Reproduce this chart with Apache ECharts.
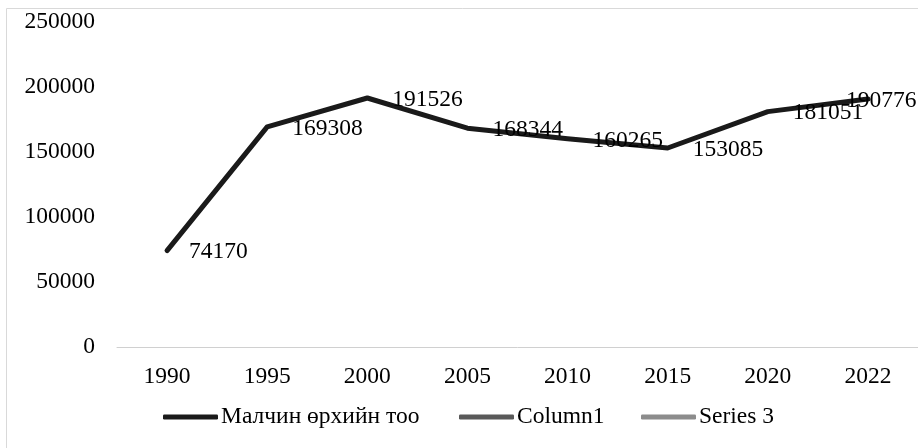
<!DOCTYPE html>
<html>
<head>
<meta charset="utf-8">
<script src="https://cdn.jsdelivr.net/npm/echarts@6/dist/echarts.min.js"></script>
<style>
  html, body { margin: 0; padding: 0; background: #fff; }
  #chart { width: 918px; height: 448px; }
</style>
</head>
<body>
<div id="chart"></div>
<script>
  // data
  const years = ['1990', '1995', '2000', '2005', '2010', '2015', '2020', '2022'];
  const herders = [74170, 169308, 191526, 168344, 160265, 153085, 181051, 190776];
  const seriesNames = ['Малчин өрхийн тоо', 'Column1', 'Series 3'];
  // label nudges (last one is pulled back inside the frame)
  const labelShift = [[-3, 1], [0, 2], [0, 2], [0, 2], [0, 2], [0, 2], [0, 1], [-47, 2]];

  const font = 'Liberation Serif';
  const fs = 23.5;
  const legendLeft = [163, 459, 641];
  const lineColors = ['#1a1a1a', '#595959', '#8c8c8c'];

  let chart = echarts.init(document.getElementById('chart'));
  chart.setOption({
    animation: false,
    textStyle: { fontFamily: font },
    graphic: [{
      type: 'rect',
      shape: { x: 6.5, y: 8.5, width: 930, height: 460 },
      style: { fill: 'none', stroke: '#d9d9d9', lineWidth: 1 },
      silent: true
    }],
    grid: { left: 117, right: -8, top: 22, bottom: 101 },
    legend: seriesNames.map((name, i) => ({
      data: [name],
      left: legendLeft[i],
      top: 405,
      padding: 0,
      itemWidth: 55,
      itemHeight: 5,
      icon: 'roundRect',
      textStyle: { fontFamily: font, fontSize: fs, color: '#000', padding: [0, 0, 0, -2] }
    })),
    xAxis: {
      type: 'category',
      data: years,
      boundaryGap: true,
      axisLine: { lineStyle: { color: '#d0d0d0', width: 1 } },
      axisTick: { show: false },
      axisLabel: { fontFamily: font, fontSize: fs, color: '#000', margin: 18 }
    },
    yAxis: {
      type: 'value',
      min: 0,
      max: 250000,
      interval: 50000,
      splitLine: { show: false },
      axisLine: { show: false },
      axisTick: { show: false },
      axisLabel: { fontFamily: font, fontSize: fs, color: '#000', margin: 22, formatter: v => String(v) }
    },
    series: [
      {
        name: seriesNames[0],
        type: 'line',
        data: herders.map((v, i) => ({
          value: v,
          label: { offset: labelShift[i] }
        })),
        symbol: 'circle',
        symbolSize: 0,
        showSymbol: true,
        color: lineColors[0],
        lineStyle: { width: 5, color: lineColors[0], cap: 'round', join: 'round' },
        label: {
          show: true,
          position: 'right',
          distance: 25,
          fontFamily: font,
          fontSize: fs,
          color: '#000'
        }
      },
      { name: seriesNames[1], type: 'line', data: [], color: lineColors[1], lineStyle: { width: 5 } },
      { name: seriesNames[2], type: 'line', data: [], color: lineColors[2], lineStyle: { width: 5 } }
    ]
  });
</script>
</body>
</html>
